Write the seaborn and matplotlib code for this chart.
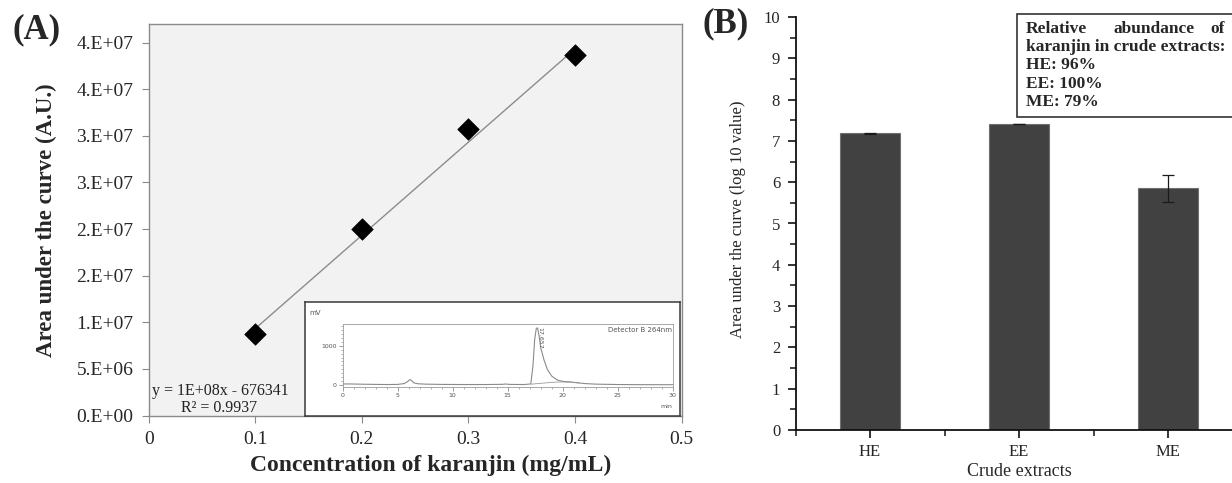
import numpy as np
import pandas as pd
import matplotlib
matplotlib.use("Agg")
import matplotlib.pyplot as plt
from matplotlib.patches import Rectangle
from matplotlib.ticker import MultipleLocator, FixedLocator
import seaborn as sns

# ---------------- data ----------------
# Panel A: calibration curve
conc = [0.1, 0.2, 0.3, 0.4]
auc = [8.73e6, 1.996e7, 3.073e7, 3.863e7]
trend_slope = 1.0e8
trend_intercept = -676341
a_xticks = [0, 0.1, 0.2, 0.3, 0.4, 0.5]
a_xticklabels = ["0", "0.1", "0.2", "0.3", "0.4", "0.5"]
a_yticks = [0, 5e6, 1e7, 1.5e7, 2e7, 2.5e7, 3e7, 3.5e7, 4e7]
a_yticklabels = ["0.E+00", "5.E+06", "1.E+07", "2.E+07", "2.E+07",
                 "3.E+07", "3.E+07", "4.E+07", "4.E+07"]

# Inset chromatogram (time in min, signal in mV)
chrom_time = [0, 1, 2, 3, 4, 5, 5.6, 5.9, 6.1, 6.25, 6.45, 6.8, 7.5, 9, 11, 13,
              14.5, 14.8, 15.2, 16.5, 17.1, 17.3, 17.45, 17.6, 17.72, 17.85,
              18.0, 18.3, 18.6, 19.0, 19.5, 20.0, 20.5, 21, 22, 23, 25, 27, 30]
chrom_mv = [30, 28, 22, 18, 15, 18, 40, 90, 140, 120, 60, 35, 25, 18, 15, 15,
            20, 28, 18, 15, 30, 500, 1150, 1440, 1450, 1250, 950, 640, 400,
            230, 130, 95, 85, 70, 40, 25, 15, 12, 10]
base_time = [17.15, 18.0, 19.0, 19.8, 20.6, 21.5]
base_mv = [25, 45, 70, 80, 75, 55]

# Panel B: bar chart
extracts = ["HE", "EE", "ME"]
log_auc = [7.18, 7.40, 5.85]
log_err = [0.01, 0.0, 0.33]
abundance_lines = ["karanjin in crude extracts:", "HE: 96%", "EE: 100%", "ME: 79%"]

# ---------------- figure ----------------
sns.set_style("white")
plt.rcParams["font.family"] = ["Liberation Serif", "DejaVu Serif"]
plt.rcParams["mathtext.fontset"] = "stix"

W, H = 1232, 483
fig = plt.figure(figsize=(W / 100, H / 100), dpi=100)
fig.patch.set_facecolor("white")


def fr(x0, y0, x1, y1):
    """pixel box (top-left origin) -> figure fraction rect"""
    return [x0 / W, 1 - y1 / H, (x1 - x0) / W, (y1 - y0) / H]


# ---------- Panel A ----------
axA = fig.add_axes(fr(148.7, 24, 681.5, 415.5))
axA.set_facecolor("#f2f2f2")
trend_x = np.array([conc[0], conc[-1]])
trend_df = pd.DataFrame({"x": trend_x, "y": trend_slope * trend_x + trend_intercept})
sns.lineplot(data=trend_df, x="x", y="y", ax=axA, color="#8c8c8c", linewidth=1.0)
pts = pd.DataFrame({"conc": conc, "auc": auc})
sns.scatterplot(data=pts, x="conc", y="auc", ax=axA, marker="D", s=120,
                color="black", edgecolor="black", linewidth=0.5, zorder=5)
axA.set_xlim(0, 0.5)
axA.set_ylim(0, 4.2e7)
axA.set_xticks(a_xticks)
axA.set_xticklabels(a_xticklabels)
axA.set_yticks(a_yticks)
axA.set_yticklabels(a_yticklabels)
for s in axA.spines.values():
    s.set_color("#8a8a8a")
    s.set_linewidth(1.0)
axA.tick_params(axis="both", direction="out", length=5, width=0.8,
                color="#8a8a8a", labelsize=14, pad=6, left=True, bottom=True)
axA.set_xlabel("Concentration of karanjin (mg/mL)", fontsize=17, fontweight="bold")
axA.set_ylabel("Area under the curve (A.U.)", fontsize=16.5, fontweight="bold")
axA.xaxis.set_label_coords((431 - 148.7) / (681.5 - 148.7), -(455 - 415.5) / (415.5 - 24))
axA.yaxis.set_label_coords(-(148.7 - 57) / (681.5 - 148.7), 0.5)

fig.text(152 / W, 1 - 391 / H, "y = 1E+08x - 676341", fontsize=11.5,
         ha="left", va="center", color="#222222")
fig.text(219 / W, 1 - 408 / H, "R² = 0.9937", fontsize=11.5,
         ha="center", va="center", color="#222222")
fig.text(12 / W, 1 - 30 / H, "(A)", fontsize=25, fontweight="bold",
         ha="left", va="center")

# Inset chromatogram
inset_box = fig.add_axes(fr(305, 302, 680, 415.5))
inset_box.set_facecolor("white")
inset_box.set_xticks([])
inset_box.set_yticks([])
for s in inset_box.spines.values():
    s.set_color("#3a3a3a")
    s.set_linewidth(1.1)
inset_box.text(0.012, 0.9, "mV", transform=inset_box.transAxes, fontsize=5,
               family="DejaVu Sans", color="#555555", ha="left", va="center")

axC = fig.add_axes(fr(342.7, 324, 672.7, 386.7))
axC.set_facecolor("white")
chrom = pd.DataFrame({"t": chrom_time, "mv": chrom_mv})
sns.lineplot(data=chrom, x="t", y="mv", ax=axC, color="#8a8a8a", linewidth=0.8, sort=False)
base = pd.DataFrame({"t": base_time, "mv": base_mv})
sns.lineplot(data=base, x="t", y="mv", ax=axC, color="#9a9a9a", linewidth=0.6, sort=False)
axC.set_xlim(0, 30)
axC.set_ylim(-40, 1550)
axC.set_xlabel("")
axC.set_ylabel("")
axC.xaxis.set_major_locator(MultipleLocator(5))
axC.xaxis.set_minor_locator(MultipleLocator(1))
axC.yaxis.set_major_locator(FixedLocator([0, 1000]))
axC.yaxis.set_minor_locator(MultipleLocator(100))
axC.tick_params(which="major", direction="out", length=3, width=0.5, color="#777777",
                labelsize=4.5, labelcolor="#555555", pad=1.5, left=True, bottom=True)
axC.tick_params(which="minor", direction="out", length=1.5, width=0.4, color="#777777",
                left=True, bottom=True)
for lab in axC.get_xticklabels() + axC.get_yticklabels():
    lab.set_family("DejaVu Sans")
for s in axC.spines.values():
    s.set_color("#9a9a9a")
    s.set_linewidth(0.6)
axC.text(0.998, 0.95, "Detector B 264nm", transform=axC.transAxes, fontsize=5,
         family="DejaVu Sans", color="#555555", ha="right", va="top")
axC.text(17.95, 1480, "17.657", fontsize=4.5, family="DejaVu Sans", color="#555555",
         rotation=-90, ha="center", va="top")
axC.text(1.0, -0.28, "min", transform=axC.transAxes, fontsize=4.5,
         family="DejaVu Sans", color="#555555", ha="right", va="top")

# ---------- Panel B ----------
axB = fig.add_axes(fr(795.5, 17, 1242.5, 430))
bar_df = pd.DataFrame({"extract": extracts, "value": log_auc})
sns.barplot(data=bar_df, x="extract", y="value", ax=axB, color="#414141",
            saturation=1, width=0.4, edgecolor="#707070", linewidth=0.8, errorbar=None)
axB.errorbar(np.arange(len(extracts)), log_auc, yerr=log_err, fmt="none",
             ecolor="#1a1a1a", elinewidth=0.9, capsize=4, capthick=0.9, zorder=5)
axB.set_xlim(-0.5, 2.5)
axB.set_ylim(0, 10)
axB.yaxis.set_major_locator(MultipleLocator(1))
axB.yaxis.set_minor_locator(MultipleLocator(0.5))
axB.xaxis.set_minor_locator(FixedLocator([-0.5, 0.5, 1.5, 2.5]))
sns.despine(ax=axB, top=True, right=True)
for s in ["left", "bottom"]:
    axB.spines[s].set_color("#111111")
    axB.spines[s].set_linewidth(1.3)
axB.tick_params(which="major", direction="out", length=6, width=1.2, color="#111111",
                labelsize=12, pad=5, left=True, bottom=True)
axB.tick_params(which="minor", direction="out", length=4, width=1.1, color="#111111",
                left=True, bottom=True)
axB.tick_params(axis="x", which="major", pad=4)
axB.set_xlabel("Crude extracts", fontsize=13)
axB.set_ylabel("Area under the curve (log 10 value)", fontsize=12)
axB.xaxis.set_label_coords((1019 - 795.5) / (1242.5 - 795.5), -(463 - 430) / (430 - 17))
axB.yaxis.set_label_coords(-(795.5 - 746) / (1242.5 - 795.5), 0.51)

fig.text(703 / W, 1 - 24 / H, "(B)", fontsize=25, fontweight="bold",
         ha="left", va="center")

# Text box with relative abundance
box = Rectangle((1017 / W, 1 - 117 / H), (1260 - 1017) / W, (117 - 14) / H,
                transform=fig.transFigure, facecolor="white", edgecolor="#333333",
                linewidth=1.2, zorder=10, clip_on=False)
fig.patches.append(box)
for word, x in zip(["Relative", "abundance", "of"], [1026, 1113, 1210]):
    fig.text(x / W, 1 - 29 / H, word, fontsize=12.5, fontweight="bold",
             ha="left", va="center", zorder=11)
for i, line in enumerate(abundance_lines):
    fig.text(1026 / W, 1 - (47 + 18.3 * i) / H, line, fontsize=12.5,
             fontweight="bold", ha="left", va="center", zorder=11)

fig.savefig("out.png", dpi=100, facecolor="white")
